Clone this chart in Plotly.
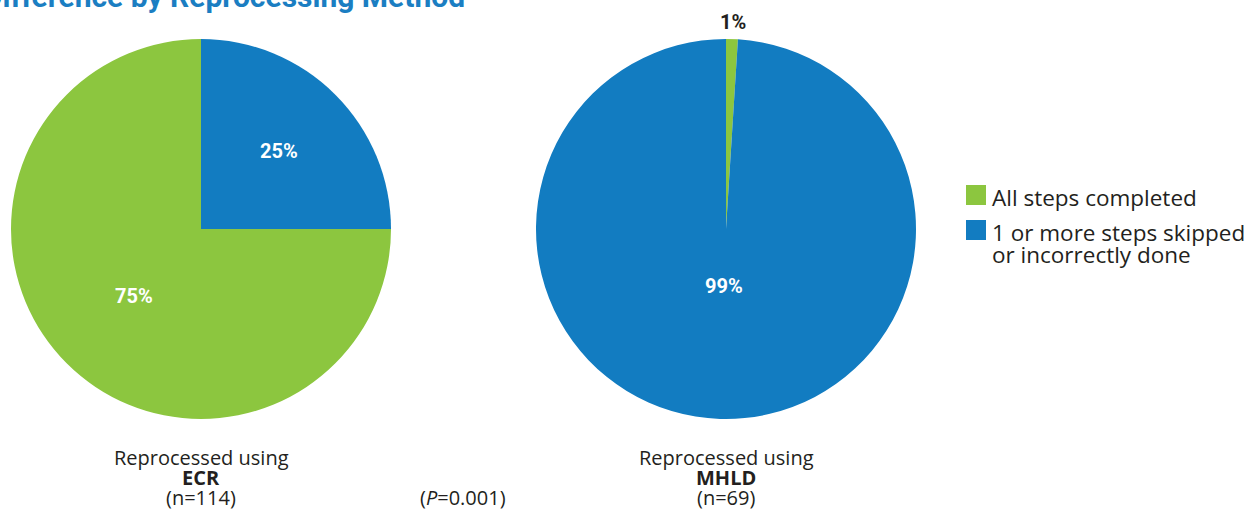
import math
import plotly.graph_objects as go

# Data
categories = ["All steps completed", "1 or more steps skipped or incorrectly done"]
legend_lines = [["All steps completed"], ["1 or more steps skipped", "or incorrectly done"]]
ecr_values = [75, 25]
mhld_values = [1, 99]
colors = ["#8CC63F", "#127CC1"]
methods = ["ECR", "MHLD"]
sample_sizes = [114, 69]
p_value = "0.001"

W, H = 1249, 512
FONT = "Open Sans"
LABEL_FONT = "Roboto"
DARK = "#231F20"
TITLE_BLUE = "#1B7EC2"


def px_x(x):
    return x / W


def px_y(y):
    return 1 - y / H


# Pie geometry (pixels) and label placement
R = 190
pies = [
    dict(values=ecr_values, cx=201, cy=229, start=90, label_r=[0.5, 0.58], outside=[False, False]),
    dict(values=mhld_values, cx=726, cy=229, start=0, label_r=[1.09, 0.3], outside=[True, False]),
]

fig = go.Figure()
annotations = []

for pie in pies:
    cx, cy = pie["cx"], pie["cy"]
    fig.add_trace(go.Pie(
        labels=categories, values=pie["values"], sort=False,
        direction="clockwise", rotation=pie["start"],
        marker=dict(colors=colors, line=dict(width=0)),
        domain=dict(x=[px_x(cx - R), px_x(cx + R)], y=[px_y(cy + R), px_y(cy - R)]),
        textinfo="none", hoverinfo="label+value", showlegend=False,
    ))
    # Percentage labels at each slice's mid-angle (clockwise from 12 o'clock)
    total = sum(pie["values"])
    angle = pie["start"]
    for v, rf, out in zip(pie["values"], pie["label_r"], pie["outside"]):
        sweep = 360 * v / total
        mid = math.radians(angle + sweep / 2)
        angle += sweep
        lx = cx + rf * R * math.sin(mid)
        ly = cy - rf * R * math.cos(mid)
        annotations.append(dict(
            text=f"<b>{v}%</b>", x=px_x(lx), y=px_y(ly), xref="paper", yref="paper",
            xanchor="center", yanchor="middle", showarrow=False,
            font=dict(family=LABEL_FONT, size=20, color=DARK if out else "white"),
        ))

# Title (runs off the top-left edge)
annotations.append(dict(
    text="<b>Difference by Reprocessing Method</b>", x=px_x(467), y=px_y(16),
    xref="paper", yref="paper", xanchor="right", yanchor="bottom", showarrow=False,
    font=dict(family=LABEL_FONT, size=30, color=TITLE_BLUE),
))

# Captions under each pie
for pie, method, n in zip(pies, methods, sample_sizes):
    for y, txt in [(457, "Reprocessed using"), (477, f"<b>{method}</b>"), (497, f"(n={n})")]:
        annotations.append(dict(
            text=txt, x=px_x(pie["cx"]), y=px_y(y), xref="paper", yref="paper",
            xanchor="center", yanchor="middle", showarrow=False,
            font=dict(family=FONT, size=20, color=DARK),
        ))

annotations.append(dict(
    text=f"(<i>P</i>={p_value})", x=px_x(463), y=px_y(497), xref="paper", yref="paper",
    xanchor="center", yanchor="middle", showarrow=False,
    font=dict(family=FONT, size=20, color=DARK),
))

# Legend: colour swatches with labels
shapes = []
swatch_y = [195, 230]
for color, lines, sy in zip(colors, legend_lines, swatch_y):
    shapes.append(dict(
        type="rect", xref="paper", yref="paper",
        x0=px_x(966), x1=px_x(986), y0=px_y(sy + 10), y1=px_y(sy - 10),
        fillcolor=color, line=dict(width=0),
    ))
    for i, line in enumerate(lines):
        annotations.append(dict(
            text=line, x=px_x(990), y=px_y(sy + 2 + 22 * i), xref="paper", yref="paper",
            xanchor="left", yanchor="middle", align="left", showarrow=False,
            font=dict(family=FONT, size=22.5, color=DARK),
        ))

fig.update_layout(
    width=W, height=H,
    margin=dict(l=0, r=0, t=0, b=0),
    paper_bgcolor="white", plot_bgcolor="white",
    annotations=annotations, shapes=shapes,
    showlegend=False,
)

fig.write_html("out.html")
